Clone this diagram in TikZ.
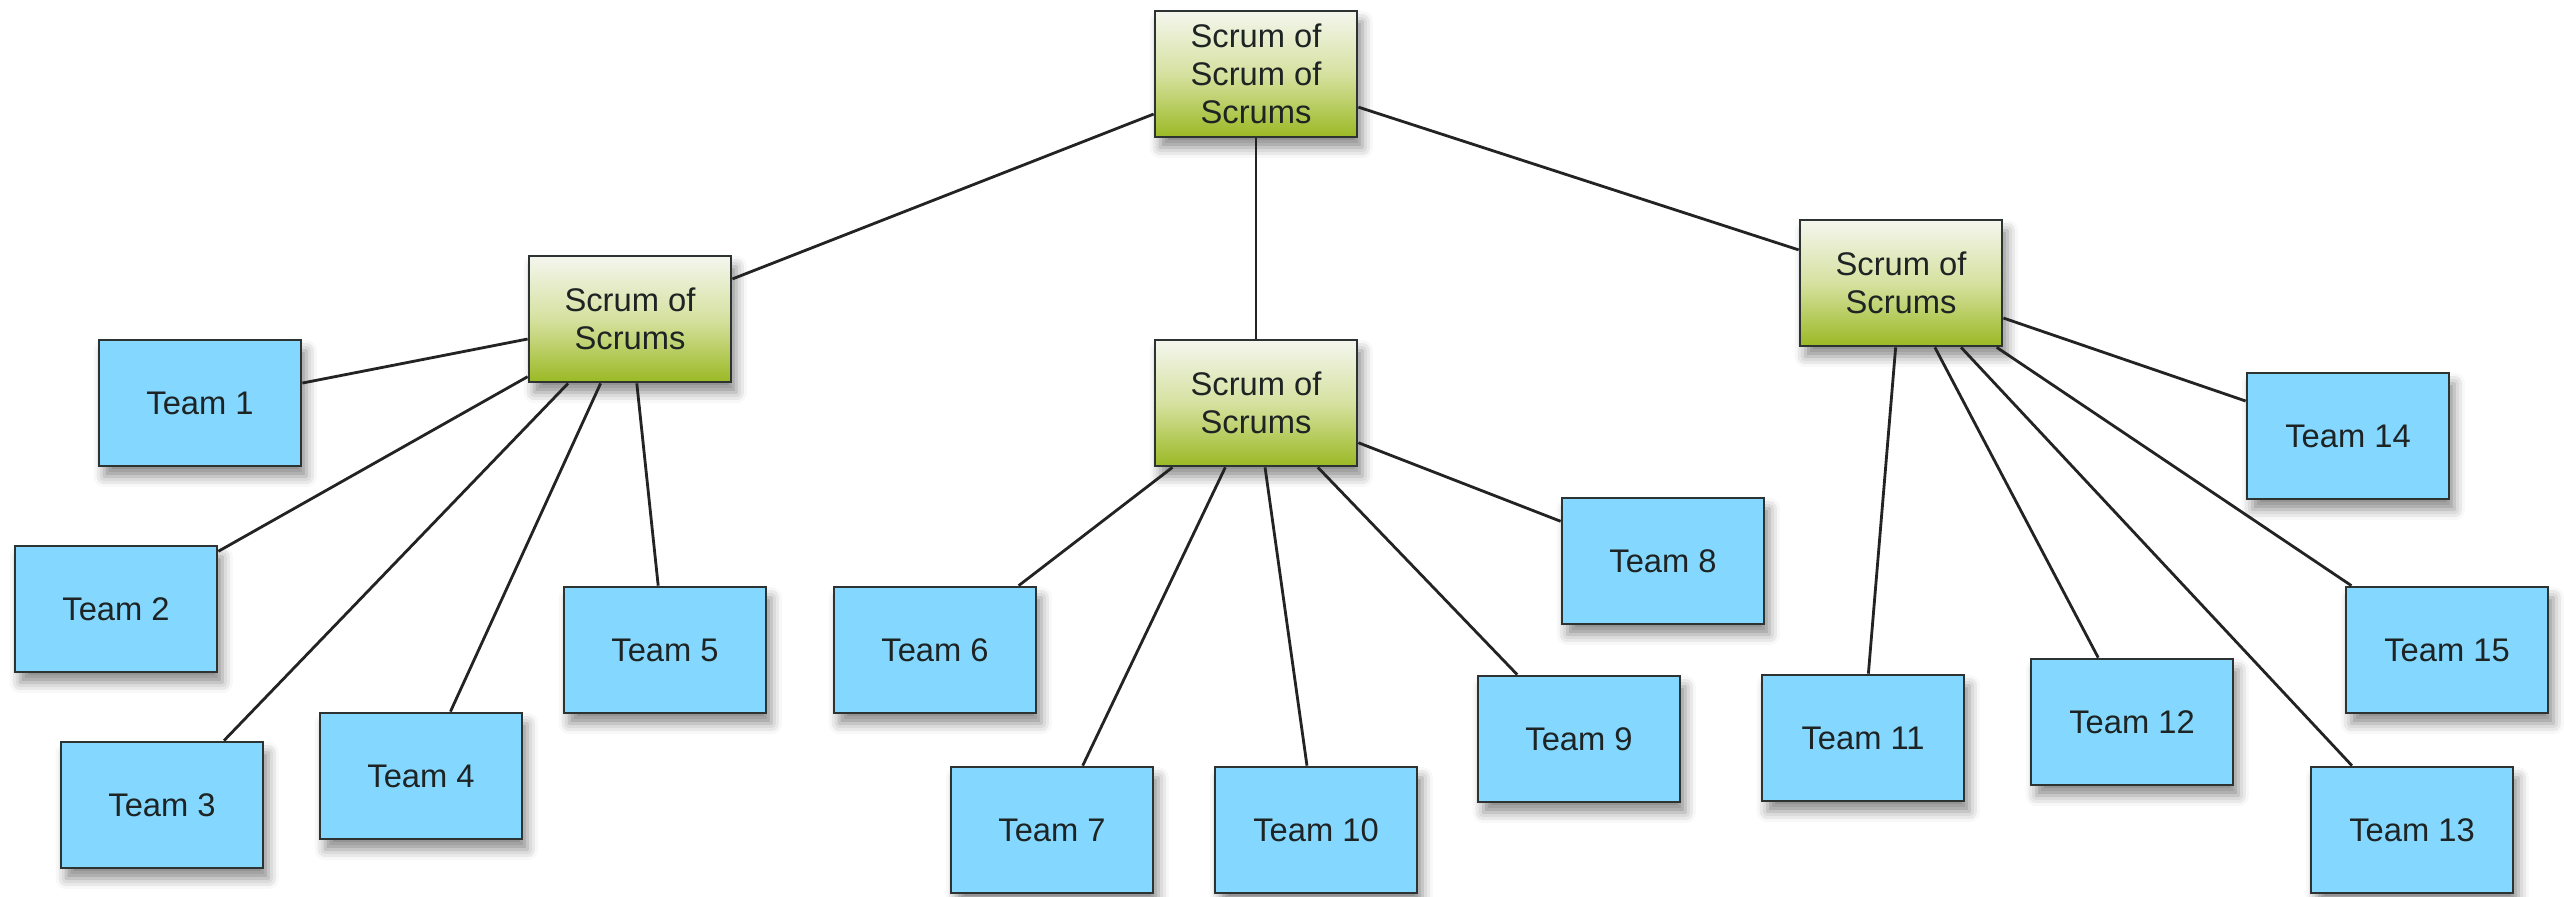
\documentclass[tikz,border=0pt]{standalone}
\usepackage{fontspec}
\setmainfont{Liberation Sans}
\usetikzlibrary{shadows.blur}
\definecolor{teamblue}{RGB}{132,216,255}
\definecolor{sostop}{RGB}{244,246,238}
\definecolor{sosmid}{RGB}{214,225,160}
\definecolor{sosbot}{RGB}{155,185,36}
\definecolor{boxline}{RGB}{45,50,50}
\definecolor{textdark}{RGB}{30,35,35}
\definecolor{linecol}{RGB}{35,35,35}
\begin{document}
\begin{tikzpicture}[x=0.01cm,y=-0.01cm,
  box/.style={draw=boxline, line width=0.75pt, minimum width=2.02cm, minimum height=1.26cm,
    inner sep=0pt, font=\fontsize{9.3}{10.8}\selectfont, text=textdark, align=center,
    blur shadow={shadow xshift=1.5pt, shadow yshift=-3pt, shadow blur radius=3pt, shadow opacity=45}},
  team/.style={box, fill=teamblue},
  sos/.style={box, top color=sostop, bottom color=sosbot, middle color=sosmid},
  link/.style={draw=linecol, line width=0.8pt}]
\useasboundingbox (0,0) rectangle (2564,896);
% scrum nodes
\node[sos] (top) at (1256,74) {Scrum of\\Scrum of\\Scrums};
\node[sos] (sl) at (630,319) {Scrum of\\Scrums};
\node[sos] (sm) at (1256,403) {Scrum of\\Scrums};
\node[sos] (sr) at (1901,283) {Scrum of\\Scrums};
% teams
\node[team] (t1) at (200,403) {Team 1};
\node[team] (t2) at (116,609) {Team 2};
\node[team] (t3) at (162,805) {Team 3};
\node[team] (t4) at (421,776) {Team 4};
\node[team] (t5) at (665,650) {Team 5};
\node[team] (t6) at (935,650) {Team 6};
\node[team] (t7) at (1052,830) {Team 7};
\node[team] (t10) at (1316,830) {Team 10};
\node[team] (t8) at (1663,561) {Team 8};
\node[team] (t9) at (1579,739) {Team 9};
\node[team] (t11) at (1863,738) {Team 11};
\node[team] (t12) at (2132,722) {Team 12};
\node[team] (t13) at (2412,830) {Team 13};
\node[team] (t14) at (2348,436) {Team 14};
\node[team] (t15) at (2447,650) {Team 15};
% connectors
\draw[link] (top) -- (sl);
\draw[link] (top) -- (sm);
\draw[link] (top) -- (sr);
\foreach \t in {t1,t2,t3,t4,t5} \draw[link] (sl) -- (\t);
\foreach \t in {t6,t7,t10,t8,t9} \draw[link] (sm) -- (\t);
\foreach \t in {t11,t12,t13,t14,t15} \draw[link] (sr) -- (\t);
\end{tikzpicture}
\end{document}
